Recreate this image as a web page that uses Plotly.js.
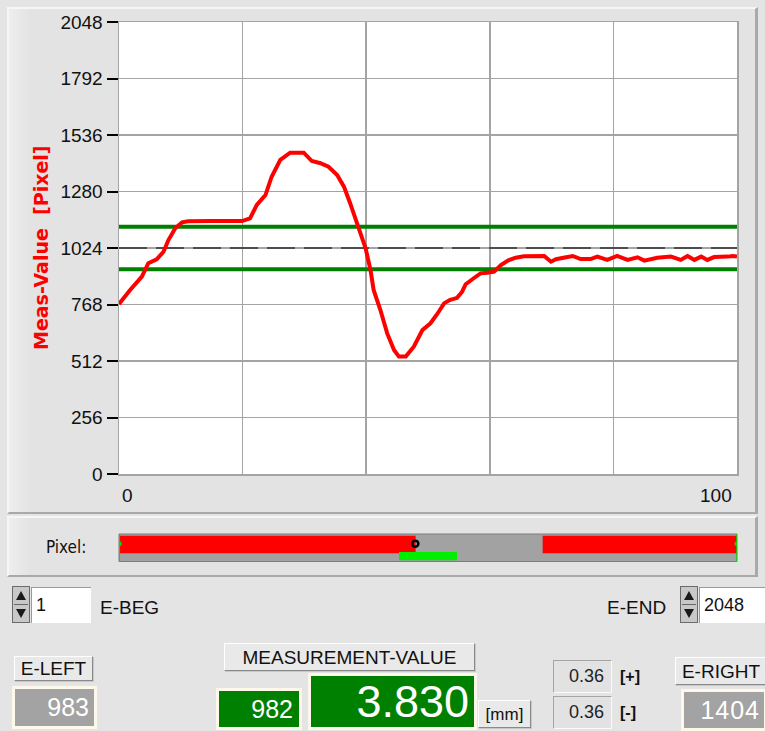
<!DOCTYPE html>
<html>
<head>
<meta charset="utf-8">
<script src="https://cdn.plot.ly/plotly-3.0.1.min.js"></script>
<style>
  html, body { margin:0; padding:0; }
  body { width:765px; height:731px; overflow:hidden; background:#e4e4e4; position:relative;
         font-family:"Liberation Sans", Arial, sans-serif; }
  .panel { position:absolute; box-sizing:border-box; background:linear-gradient(to right,#eeeeee 0px,#e3e3e3 22px,#e3e3e3 100%);
           border-top:2px solid #f6f6f6; border-left:2px solid #f6f6f6; border-right:3px solid #a9a9a9; border-bottom:2px solid #a9a9a9; }
  #plot { position:absolute; left:0; top:0; width:765px; height:580px; }
  .abs { position:absolute; box-sizing:border-box; white-space:nowrap; }
  .lbl { font-size:19px; color:#111; }
  .btn { background:#e9e9e9; border-top:1px solid #ffffff; border-left:1px solid #ffffff;
         border-right:1px solid #8a8a8a; border-bottom:1px solid #8a8a8a; box-shadow:1px 1px 0 #c8c8c8;
         font-size:19px; color:#111; text-align:center; }
  .frame { background:#fdf8ea; padding:3px; }
  .ind { width:100%; height:100%; box-sizing:border-box; color:#fff; text-align:right; }
  .spin { background:#c8c8c8; border:1px solid #6a6a6a; }
  .spin .up, .spin .dn { position:absolute; left:3px; width:0; height:0; border-left:5px solid transparent; border-right:5px solid transparent; }
  .spin .up { top:4px; border-bottom:9px solid #1a1a1a; }
  .spin .dn { bottom:4px; border-top:9px solid #1a1a1a; }
  .spin .mid { position:absolute; left:1px; right:1px; top:17px; height:1px; background:#666; }
  .tbox { background:#fff; border-top:1px solid #9a9a9a; border-left:1px solid #9a9a9a; font-size:18px; color:#111; padding-left:4px; line-height:34px; }
  .small { background:#e2e2e2; border-top:1px solid #a5a5a5; border-left:1px solid #a5a5a5; border-right:1px solid #fafafa; border-bottom:1px solid #fafafa;
           font-size:18px; color:#222; text-align:right; padding-right:7px; line-height:31px; }
</style>
</head>
<body>
<div class="panel" style="left:7px; top:7px; width:751px; height:507px;"></div>
<div class="panel" style="left:7px; top:516px; width:751px; height:61px;"></div>
<div id="plot"></div>

<!-- controls -->
<div class="abs spin" style="left:12px; top:586px; width:18px; height:37px;"><div class="up"></div><div class="mid"></div><div class="dn"></div></div>
<div class="abs tbox" id="eBegBox" style="left:31px; top:587px; width:60px; height:36px;"></div>
<div class="abs lbl" style="left:100px; top:597px;">E-BEG</div>

<div class="abs lbl" style="left:607px; top:597px;">E-END</div>
<div class="abs spin" style="left:680px; top:586px; width:18px; height:37px;"><div class="up"></div><div class="mid"></div><div class="dn"></div></div>
<div class="abs tbox" id="eEndBox" style="left:699px; top:587px; width:66px; height:36px;"></div>

<div class="abs btn" style="left:14px; top:656px; width:79px; height:25px; line-height:24px;">E-LEFT</div>
<div class="abs frame" style="left:12px; top:686px; width:85px; height:43px;"><div class="ind" id="eLeftBox" style="background:#a3a3a3; font-size:25px; line-height:37px; padding-right:5px;"></div></div>

<div class="abs btn" style="left:224px; top:643px; width:251px; height:28px; line-height:28px;">MEASUREMENT-VALUE</div>
<div class="abs frame" style="left:216px; top:688px; width:86px; height:42px;"><div class="ind" id="measPixBox" style="background:#008000; font-size:25px; line-height:36px; padding-right:6px;"></div></div>
<div class="abs frame" style="left:308px; top:673px; width:169px; height:57px;"><div class="ind" id="measMMBox" style="background:#008000; font-size:45px; line-height:51px; padding-right:5px;"></div></div>
<div class="abs btn" style="left:478px; top:700px; width:53px; height:28px; line-height:28px; font-size:17px;">[mm]</div>

<div class="abs small" id="tolPBox" style="left:553px; top:660px; width:59px; height:33px;"></div>
<div class="abs small" id="tolMBox" style="left:553px; top:696px; width:59px; height:33px;"></div>
<div class="abs" style="left:620px; top:668px; font-size:16px; font-weight:bold; color:#111;">[+]</div>
<div class="abs" style="left:620px; top:704px; font-size:16px; font-weight:bold; color:#111;">[-]</div>

<div class="abs btn" style="left:675px; top:657px; width:92px; height:28px; line-height:27px;">E-RIGHT</div>
<div class="abs frame" style="left:681px; top:689px; width:86px; height:42px;"><div class="ind" id="eRightBox" style="background:#a3a3a3; font-size:25px; line-height:36px; padding-right:4px; letter-spacing:1px;"></div></div>

<script>
// ---------- data ----------
const xVals = [0, 1.8, 3.7, 4.75, 6.1, 7.2, 8.0, 9.1, 10.2, 11.2, 15, 19.9, 21.2, 22.3, 23.7, 24.7, 26.1, 27.7, 29.9,
  31.2, 32.6, 33.9, 35.3, 36.4, 37.4, 38.5, 39.2, 39.9, 40.7, 41.2, 42.3, 43.4, 44.5, 45.3, 46.4, 47.7, 49.1, 50.4,
  51.5, 52.6, 53.5, 54.7, 55.5, 56.1, 57.4, 58.5, 59.6, 60.7, 61.8, 63.0, 64.2, 65.5, 68.8, 69.4, 69.9, 70.7, 72.6,
  73.4, 74.7, 76.3, 77.4, 79.0, 80.6, 82.3, 83.9, 85.0, 87.1, 89.3, 90.9, 92.0, 93.1, 94.2, 95.2, 96.3, 98.5, 99.3, 100];
const measValues = [770, 834, 894, 955, 973, 1007, 1060, 1113, 1140, 1145, 1146, 1146, 1158, 1219, 1264, 1347, 1423, 1456, 1456,
  1418, 1408, 1392, 1355, 1302, 1227, 1136, 1080, 1023, 924, 834, 743, 637, 562, 532, 532, 577, 652, 683,
  725, 773, 788, 798, 825, 860, 887, 909, 912, 917, 947, 968, 980, 987, 988, 975, 962, 973, 985,
  988, 974, 974, 985, 970, 988, 970, 982, 967, 980, 985, 970, 988, 970, 985, 970, 983, 985, 988, 985];
const limitX = [0, 100];
const upperLimit = 1120;
const lowerLimit = 928;
const centerLine = 1024;
const yTicks = [0, 256, 512, 768, 1024, 1280, 1536, 1792, 2048];
const xGrid = [0, 20, 40, 60, 80, 100];
const xTickLabels = ['0', '100'];
const yTitle = 'Meas-Value  [Pixel]';
const eBeg = 1, eEnd = 2048, eLeft = 983, eRight = 1404, measPixel = 982;
const measMM = '3.830', tolPlus = '0.36', tolMinus = '0.36';

// ---------- figure ----------
const H = 580;
const xd = [119/765, 737/765];
const green = '#008000';
const traces = [
  {x: limitX, y: [centerLine, centerLine], mode: 'lines', line: {color: '#303030', width: 1.6, dash: '28px,9px'}, xaxis: 'x', yaxis: 'y', hoverinfo: 'skip'},
  {x: limitX, y: [upperLimit, upperLimit], mode: 'lines', line: {color: green, width: 4}, xaxis: 'x', yaxis: 'y'},
  {x: limitX, y: [lowerLimit, lowerLimit], mode: 'lines', line: {color: green, width: 4}, xaxis: 'x', yaxis: 'y'},
  {x: xVals, y: measValues, mode: 'lines', line: {color: '#ff0000', width: 4}, xaxis: 'x', yaxis: 'y'},
  // pixel bar
  {type: 'bar', orientation: 'h', base: [eBeg], x: [eLeft - eBeg], y: [0.62], width: 0.64, marker: {color: '#ff0000', line: {width: 0}}, xaxis: 'x2', yaxis: 'y2'},
  {type: 'bar', orientation: 'h', base: [eRight], x: [eEnd - eRight], y: [0.62], width: 0.64, marker: {color: '#ff0000', line: {width: 0}}, xaxis: 'x2', yaxis: 'y2'},
  {type: 'bar', orientation: 'h', base: [lowerLimit], x: [upperLimit - lowerLimit], y: [0.2], width: 0.3, marker: {color: '#00ee00', line: {width: 0}}, xaxis: 'x2', yaxis: 'y2'},
  {x: [eBeg, eBeg], y: [0, 1], mode: 'lines', line: {color: '#00dd00', width: 1.5}, xaxis: 'x2', yaxis: 'y2'},
  {x: [eEnd, eEnd], y: [0, 1], mode: 'lines', line: {color: '#00dd00', width: 1.5}, xaxis: 'x2', yaxis: 'y2'},
  {x: [eBeg, eEnd], y: [0.65, 0.65], mode: 'markers', marker: {color: '#00dd00', size: 5}, xaxis: 'x2', yaxis: 'y2'},
  {x: [measPixel], y: [0.65], mode: 'markers', marker: {symbol: 'circle-open', color: '#000', size: 6, line: {width: 2.5, color: '#000'}}, xaxis: 'x2', yaxis: 'y2'}
];

const layout = {
  width: 765, height: H,
  margin: {l: 0, r: 0, t: 0, b: 0},
  paper_bgcolor: 'rgba(0,0,0,0)',
  plot_bgcolor: '#ffffff',
  showlegend: false,
  barmode: 'overlay',
  font: {family: '"Liberation Sans", Arial, sans-serif', color: '#000'},
  xaxis: {domain: xd, range: [0, 100], tickvals: xGrid, showticklabels: false, ticks: '',
          showgrid: true, gridcolor: '#a4a4a4', gridwidth: 1.5, zeroline: false,
          showline: true, linecolor: '#a4a4a4', linewidth: 1.5, mirror: true, fixedrange: true},
  yaxis: {domain: [(H - 474) / H, (H - 22) / H], range: [0, 2048], tickvals: yTicks, ticktext: yTicks.map(String),
          ticks: 'outside', ticklen: 11, tickwidth: 2, tickcolor: '#000',
          tickfont: {size: 19, color: '#111', family: '"Liberation Sans", Arial, sans-serif'},
          showgrid: true, gridcolor: '#a4a4a4', gridwidth: 1.5, zeroline: false,
          showline: true, linecolor: '#a4a4a4', linewidth: 1.5, mirror: true, fixedrange: true},
  xaxis2: {domain: xd, range: [0, 2048], anchor: 'y2', showgrid: false, zeroline: false, showticklabels: false, ticks: '', fixedrange: true},
  yaxis2: {domain: [(H - 561.5) / H, (H - 534) / H], range: [0, 1], anchor: 'x2', showgrid: false, zeroline: false, showticklabels: false, ticks: '', fixedrange: true},
  shapes: [
    {type: 'rect', xref: 'x2 domain', yref: 'y2 domain', x0: 0, x1: 1, y0: 0, y1: 1, layer: 'below',
     fillcolor: '#a2a2a2', line: {color: '#7c7c7c', width: 1}}
  ],
  annotations: [
    {text: yTitle, textangle: -90, xref: 'paper', yref: 'paper', x: 41 / 765, y: (H - 248) / H,
     xanchor: 'center', yanchor: 'middle',
     showarrow: false, font: {family: '"DejaVu Sans", sans-serif', size: 19, color: '#ff0000', weight: 'bold'}},
    {text: xTickLabels[0], xref: 'x', yref: 'paper', x: 0, xshift: 1, xanchor: 'left', y: (H - 496) / H, yanchor: 'middle',
     showarrow: false, font: {size: 19, color: '#111'}},
    {text: xTickLabels[1], xref: 'x', yref: 'paper', x: 100, xshift: -3, xanchor: 'right', y: (H - 496) / H, yanchor: 'middle',
     showarrow: false, font: {size: 19, color: '#111'}},
    {text: 'Pixel:', xref: 'paper', yref: 'paper', x: 44 / 765, xanchor: 'left', y: (H - 547) / H, yanchor: 'middle',
     showarrow: false, font: {family: '"Liberation Sans Narrow", "DejaVu Sans Condensed", sans-serif', size: 17, color: '#111'}}
  ]
};

Plotly.newPlot('plot', traces, layout, {staticPlot: true, displayModeBar: false});

document.getElementById('eBegBox').textContent = String(eBeg);
document.getElementById('eEndBox').textContent = String(eEnd);
document.getElementById('eLeftBox').textContent = String(eLeft);
document.getElementById('eRightBox').textContent = String(eRight);
document.getElementById('measPixBox').textContent = String(measPixel);
document.getElementById('measMMBox').textContent = measMM;
document.getElementById('tolPBox').textContent = tolPlus;
document.getElementById('tolMBox').textContent = tolMinus;
</script>
</body>
</html>
